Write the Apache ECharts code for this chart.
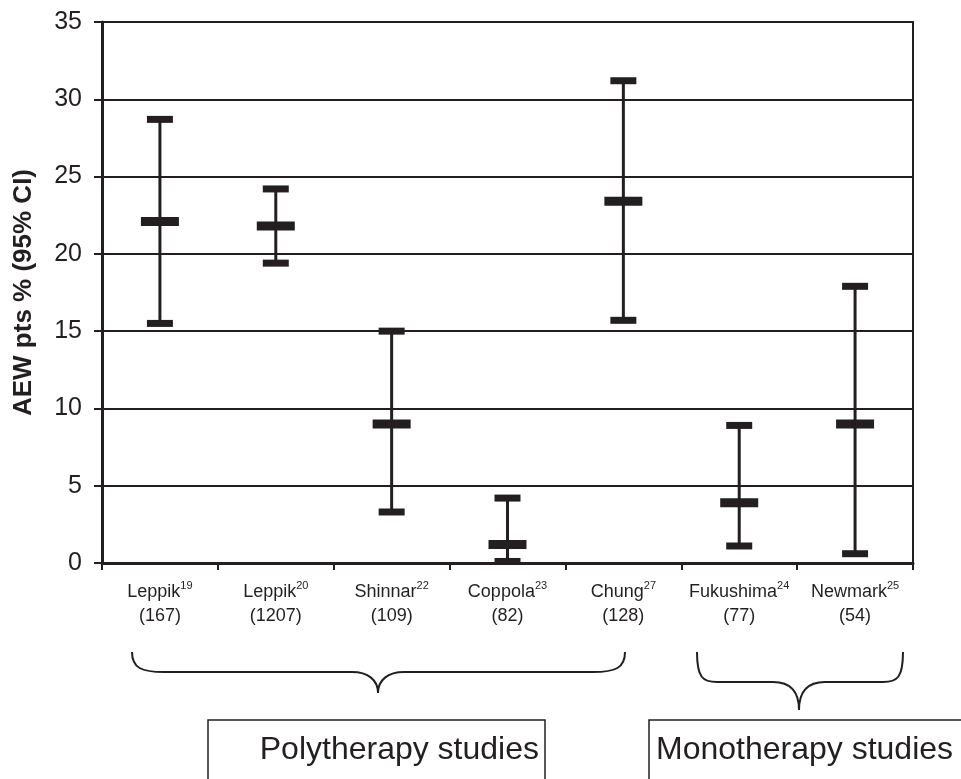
<!DOCTYPE html>
<html>
<head>
<meta charset="utf-8">
<script src="https://cdn.jsdelivr.net/npm/echarts@6/dist/echarts.min.js"></script>
<style>
html,body{margin:0;padding:0;background:#fff;}
#chart{width:961px;height:779px;}
</style>
</head>
<body>
<div id="chart"></div>
<script>
// ---- data ----
const studies = ['Leppik', 'Leppik', 'Shinnar', 'Coppola', 'Chung', 'Fukushima', 'Newmark'];
const refs = ['19', '20', '22', '23', '27', '24', '25'];
const sampleSizes = ['167', '1207', '109', '82', '128', '77', '54'];
const estimate = [22.1, 21.8, 9.0, 1.2, 23.4, 3.9, 9.0];
const lowerCI = [15.5, 19.4, 3.3, 0.1, 15.7, 1.1, 0.6];
const upperCI = [28.7, 24.2, 15.0, 4.2, 31.2, 8.9, 17.9];
const yTicks = { min: 0, max: 35, step: 5 };
const axisTitle = 'AEW pts % (95% CI)';
const groupLabels = ['Polytherapy studies', 'Monotherapy studies'];

const INK = '#231f20';
const FONT = '"Liberation Sans", Arial, sans-serif';

const chart = echarts.init(document.getElementById('chart'), null, { renderer: 'canvas' });

const seriesData = studies.map((s, i) => [i, estimate[i], lowerCI[i], upperCI[i]]);

function renderItem(params, api) {
  const i = api.value(0);
  const mid = api.coord([i, api.value(1)]);
  const lo = api.coord([i, api.value(2)]);
  const hi = api.coord([i, api.value(3)]);
  const x = mid[0];
  const capW = 26, capH = 7, midW = 38, midH = 9;
  return {
    type: 'group',
    children: [
      { type: 'line', shape: { x1: x, y1: lo[1], x2: x, y2: hi[1] }, style: { stroke: INK, lineWidth: 3 } },
      { type: 'rect', shape: { x: x - capW / 2, y: hi[1] - capH / 2, width: capW, height: capH }, style: { fill: INK } },
      { type: 'rect', shape: { x: x - capW / 2, y: lo[1] - capH / 2, width: capW, height: capH }, style: { fill: INK } },
      { type: 'rect', shape: { x: x - midW / 2, y: mid[1] - midH / 2, width: midW, height: midH }, style: { fill: INK } }
    ]
  };
}

// brace decoration: left end (xl, top), right end (xr, top), horizontal level yh, tip (xt, yt)
function brace(xl, xr, top, yh, xt, yt, r) {
  const st = { fill: 'none', stroke: INK, lineWidth: 2 };
  const segs = [];
  segs.push({ type: 'bezierCurve', silent: true, shape: { x1: xl, y1: top, cpx1: xl, cpy1: yh - 4, cpx2: xl + r * 0.3, cpy2: yh, x2: xl + r, y2: yh }, style: st });
  segs.push({ type: 'line', silent: true, shape: { x1: xl + r, y1: yh, x2: xt - 26, y2: yh }, style: st });
  segs.push({ type: 'bezierCurve', silent: true, shape: { x1: xt - 26, y1: yh, cpx1: xt - 10, cpy1: yh, cpx2: xt, cpy2: yh + 8, x2: xt, y2: yt }, style: st });
  segs.push({ type: 'bezierCurve', silent: true, shape: { x1: xt, y1: yt, cpx1: xt, cpy1: yh + 8, cpx2: xt + 10, cpy2: yh, x2: xt + 26, y2: yh }, style: st });
  segs.push({ type: 'line', silent: true, shape: { x1: xt + 26, y1: yh, x2: xr - r, y2: yh }, style: st });
  segs.push({ type: 'bezierCurve', silent: true, shape: { x1: xr - r, y1: yh, cpx1: xr - r * 0.3, cpy1: yh, cpx2: xr, cpy2: yh - 4, x2: xr, y2: top }, style: st });
  return segs;
}

const graphics = [].concat(
  brace(132, 625, 652, 672, 378, 693, 32),
  brace(697, 903, 652, 682, 799, 710, 20),
  [
    {
      type: 'rect', silent: true,
      shape: { x: 208, y: 720, width: 337, height: 80 },
      style: { fill: '#fff', stroke: INK, lineWidth: 1.5 }
    },
    {
      type: 'text', silent: true,
      x: 539, y: 750,
      style: { text: groupLabels[0], fontFamily: FONT, fontSize: 32, fill: INK, align: 'right', verticalAlign: 'middle' }
    },
    {
      type: 'rect', silent: true,
      shape: { x: 649, y: 720, width: 330, height: 80 },
      style: { fill: '#fff', stroke: INK, lineWidth: 1.5 }
    },
    {
      type: 'text', silent: true,
      x: 656, y: 750,
      style: { text: groupLabels[1], fontFamily: FONT, fontSize: 32, fill: INK, align: 'left', verticalAlign: 'middle' }
    }
  ]
);

const option = {
  animation: false,
  backgroundColor: '#fff',
  grid: { left: 102, right: 48, top: 22, bottom: 216, show: true, borderColor: INK, borderWidth: 2, backgroundColor: 'transparent' },
  xAxis: {
    type: 'category',
    data: studies,
    boundaryGap: true,
    axisLine: { lineStyle: { color: INK, width: 3 } },
    axisTick: { show: true, length: 7, lineStyle: { color: INK, width: 2 } },
    splitLine: { show: false },
    axisLabel: {
      margin: 17,
      interval: 0,
      color: INK,
      fontFamily: FONT,
      formatter: function (v, idx) {
        return '{a|' + v + '}{s|' + refs[idx] + '}\n{a|(' + sampleSizes[idx] + ')}';
      },
      rich: {
        a: { fontSize: 18, lineHeight: 24, color: INK, fontFamily: FONT },
        s: { fontSize: 11, lineHeight: 15, verticalAlign: 'top', color: INK, fontFamily: FONT }
      }
    }
  },
  yAxis: {
    type: 'value',
    min: yTicks.min,
    max: yTicks.max,
    interval: yTicks.step,
    name: axisTitle,
    nameLocation: 'middle',
    nameGap: 65,
    nameTextStyle: { fontFamily: FONT, fontWeight: 'bold', fontSize: 26, color: INK },
    axisLine: { show: true, lineStyle: { color: INK, width: 3 } },
    axisTick: { show: true, length: 8, lineStyle: { color: INK, width: 2 } },
    splitLine: { show: true, lineStyle: { color: INK, width: 2 } },
    axisLabel: { color: INK, fontFamily: FONT, fontSize: 25, margin: 20 }
  },
  series: [{
    type: 'custom',
    renderItem: renderItem,
    data: seriesData,
    encode: { x: 0, y: [1, 2, 3] },
    z: 10
  }],
  graphic: graphics
};

chart.setOption(option);
</script>
</body>
</html>
